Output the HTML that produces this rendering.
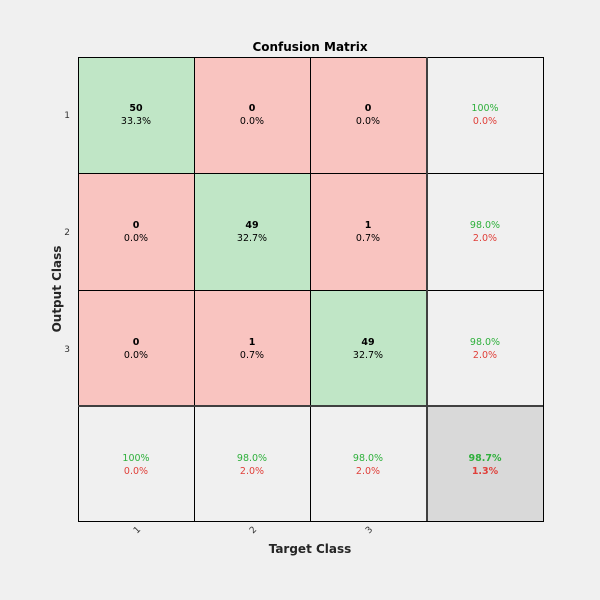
<!DOCTYPE html><html><head><style>html,body{margin:0;padding:0;background:#f0f0f0;overflow:hidden;width:600px;height:600px}svg{display:block}</style></head><body>
<svg width="600" height="600" xmlns="http://www.w3.org/2000/svg" font-family="DejaVu Sans, Liberation Sans, sans-serif">
<rect width="600" height="600" fill="#f0f0f0"/>
<g stroke="none">
<rect x="78" y="57" width="116" height="116" fill="#c0e6c6"/>
<rect x="194" y="57" width="116" height="116" fill="#f9c4c0"/>
<rect x="310" y="57" width="117" height="116" fill="#f9c4c0"/>
<rect x="78" y="173" width="116" height="117" fill="#f9c4c0"/>
<rect x="194" y="173" width="116" height="117" fill="#c0e6c6"/>
<rect x="310" y="173" width="117" height="117" fill="#f9c4c0"/>
<rect x="78" y="290" width="116" height="116" fill="#f9c4c0"/>
<rect x="194" y="290" width="116" height="116" fill="#f9c4c0"/>
<rect x="310" y="290" width="117" height="116" fill="#c0e6c6"/>
<rect x="427" y="406" width="116" height="115" fill="#d9d9d9"/>
</g>
<g stroke="#000" stroke-width="1" fill="none">
<rect x="78.5" y="57.5" width="465" height="464"/>
<line x1="194.5" y1="57" x2="194.5" y2="521"/>
<line x1="310.5" y1="57" x2="310.5" y2="521"/>
<line x1="78" y1="173.5" x2="543" y2="173.5"/>
<line x1="78" y1="290.5" x2="543" y2="290.5"/>
</g>
<g stroke="#404040" stroke-width="2">
<line x1="427" y1="57" x2="427" y2="521"/>
<line x1="78" y1="406" x2="543" y2="406"/>
</g>
<g font-size="9.5" text-anchor="middle">
<g fill="#000">
<text x="136" y="111" font-weight="bold">50</text><text x="136" y="124">33.3%</text>
<text x="252" y="111" font-weight="bold">0</text><text x="252" y="124">0.0%</text>
<text x="368" y="111" font-weight="bold">0</text><text x="368" y="124">0.0%</text>
<text x="136" y="228" font-weight="bold">0</text><text x="136" y="241">0.0%</text>
<text x="252" y="228" font-weight="bold">49</text><text x="252" y="241">32.7%</text>
<text x="368" y="228" font-weight="bold">1</text><text x="368" y="241">0.7%</text>
<text x="136" y="345" font-weight="bold">0</text><text x="136" y="358">0.0%</text>
<text x="252" y="345" font-weight="bold">1</text><text x="252" y="358">0.7%</text>
<text x="368" y="345" font-weight="bold">49</text><text x="368" y="358">32.7%</text>
</g>
<g fill="#2fb03c">
<text x="485" y="111">100%</text><text x="485" y="228">98.0%</text><text x="485" y="345">98.0%</text>
<text x="136" y="461">100%</text><text x="252" y="461">98.0%</text><text x="368" y="461">98.0%</text>
<text x="485" y="461" font-weight="bold">98.7%</text>
</g>
<g fill="#e0403a">
<text x="485" y="124">0.0%</text><text x="485" y="241">2.0%</text><text x="485" y="358">2.0%</text>
<text x="136" y="474">0.0%</text><text x="252" y="474">2.0%</text><text x="368" y="474">2.0%</text>
<text x="485" y="474" font-weight="bold">1.3%</text>
</g>
</g>
<g font-size="9" fill="#333">
<text x="70" y="118" text-anchor="end">1</text>
<text x="70" y="235" text-anchor="end">2</text>
<text x="70" y="352" text-anchor="end">3</text>
<text transform="translate(141,530) rotate(-45)" text-anchor="end">1</text>
<text transform="translate(257,530) rotate(-45)" text-anchor="end">2</text>
<text transform="translate(373,530) rotate(-45)" text-anchor="end">3</text>
</g>
<text x="310" y="51" font-size="12" font-weight="bold" text-anchor="middle" fill="#000">Confusion Matrix</text>
<text x="310" y="553" font-size="12" font-weight="bold" text-anchor="middle" fill="#262626">Target Class</text>
<text transform="translate(61,289) rotate(-90)" font-size="12" font-weight="bold" text-anchor="middle" fill="#262626">Output Class</text>
</svg>
</body></html>
